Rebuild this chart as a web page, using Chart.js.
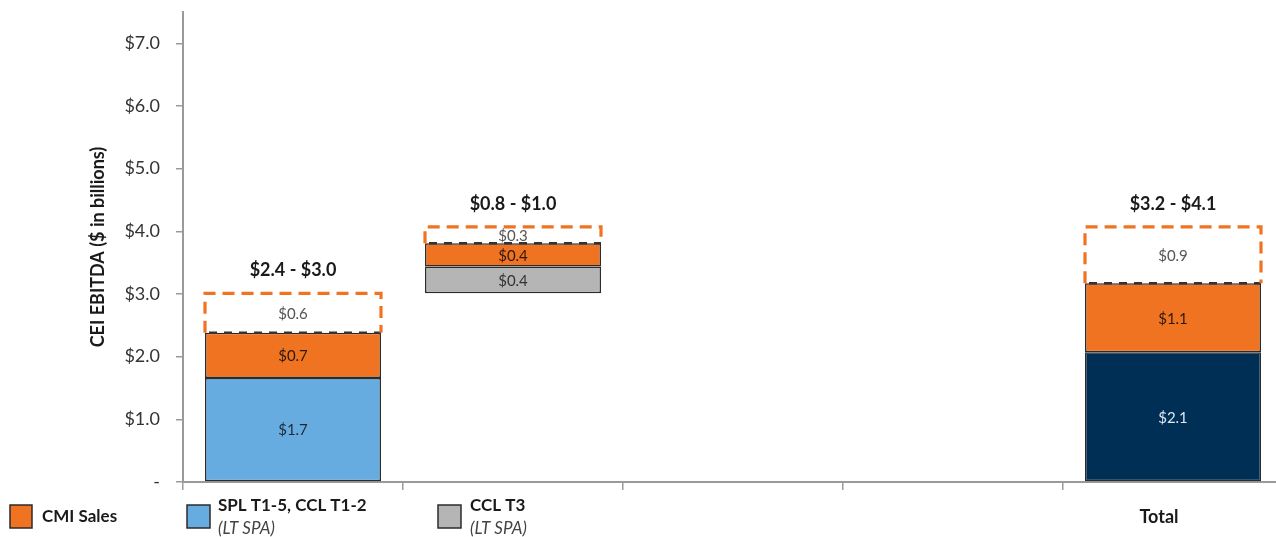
<!DOCTYPE html>
<html>
<head>
<meta charset="utf-8">
<script src="https://cdn.jsdelivr.net/npm/chart.js@4.4.1/dist/chart.umd.min.js"></script>
<style>
  html, body { margin: 0; padding: 0; background: #fff; overflow: hidden; }
  #wrap { position: relative; width: 1300px; height: 537px; }
</style>
</head>
<body>
<div id="wrap"><canvas id="ebitda-chart"></canvas></div>
<script>
// categories (bottom labels)
const categories = ["SPL T1-5, CCL T1-2", "CCL T3", "", "", "Total"];
const categorySubLabels = ["(LT SPA)", "(LT SPA)", "", "", ""];

// series values ($ billions)
const contractStart = [0, 3.01, null, null, 0];
const contractValues = [1.66, 0.43, null, null, 2.07];
const cmiValues = [0.72, 0.37, null, null, 1.10];
const upsideValues = [0.63, 0.26, null, null, 0.90];
const rangeLabels = ["$2.4 - $3.0", "$0.8 - $1.0", "", "", "$3.2 - $4.1"];

// y axis ticks
const yTicks = [0, 1, 2, 3, 4, 5, 6, 7];
const yMax = 7.5;

const CONTRACT_COLORS = ["#67ace0", "#b5b5b5", null, null, "#002f56"];
const CONTRACT_TEXT = ["#1f2a36", "#333333", null, null, "#dde6f0"];
const ORANGE = "#f07322";
const FONT = "Lato, 'Open Sans', sans-serif";

// floating ranges built from the segment values
const contractRanges = contractValues.map((v, i) => v == null ? null : [contractStart[i], contractStart[i] + v]);
const cmiRanges = cmiValues.map((v, i) => v == null ? null : [contractRanges[i][1], contractRanges[i][1] + v]);
const upsideRanges = upsideValues.map((v, i) => v == null ? null : [cmiRanges[i][1], cmiRanges[i][1] + v]);

const fmt = (v) => "$" + v.toFixed(1);

// dashed "upside" boxes + segment labels + range headers
const overlayPlugin = {
  id: "overlay",
  afterDatasetsDraw(chart) {
    const ctx = chart.ctx;
    const upMeta = chart.getDatasetMeta(2);
    ctx.save();
    upMeta.data.forEach((bar, i) => {
      if (upsideValues[i] == null) return;
      const left = bar.x - bar.width / 2, right = bar.x + bar.width / 2;
      const top = bar.y, base = bar.base;
      // dark dashed line on top of the solid stack
      ctx.setLineDash([8, 7]);
      ctx.lineWidth = 2.5;
      ctx.strokeStyle = "#333333";
      ctx.beginPath();
      ctx.moveTo(left + 4, base);
      ctx.lineTo(right, base);
      ctx.stroke();
      // orange dashed outline
      ctx.setLineDash([12, 7]);
      ctx.lineWidth = 3.2;
      ctx.strokeStyle = ORANGE;
      ctx.beginPath();
      ctx.moveTo(left, base);
      ctx.lineTo(left, top);
      ctx.lineTo(right, top);
      ctx.lineTo(right, base);
      ctx.stroke();
      // range header
      ctx.setLineDash([]);
      ctx.fillStyle = "#1a1a1a";
      ctx.font = "bold 18px " + FONT;
      ctx.textAlign = "center";
      ctx.textBaseline = "middle";
      ctx.fillText(rangeLabels[i], bar.x, top - 23);
    });

    // segment value labels
    const seriesVals = [contractValues, cmiValues, upsideValues];
    ctx.font = "15px " + FONT;
    ctx.textAlign = "center";
    ctx.textBaseline = "middle";
    seriesVals.forEach((vals, d) => {
      chart.getDatasetMeta(d).data.forEach((bar, i) => {
        if (vals[i] == null) return;
        if (d === 0) ctx.fillStyle = CONTRACT_TEXT[i];
        else if (d === 1) ctx.fillStyle = "#2a1a10";
        else ctx.fillStyle = "#555555";
        ctx.fillText(fmt(vals[i]), bar.x, (bar.y + bar.base) / 2 + 1);
      });
    });
    ctx.restore();
  },
  afterDraw(chart) {
    const ctx = chart.ctx;
    const xs = chart.scales.x;
    ctx.save();
    ctx.textBaseline = "middle";
    ctx.textAlign = "left";
    ctx.lineWidth = 1.5;
    ctx.strokeStyle = "#2b2b2b";

    // CMI Sales key, under the y axis
    ctx.fillStyle = ORANGE;
    ctx.fillRect(10, 505, 22, 23);
    ctx.strokeRect(10, 505, 22, 23);
    ctx.fillStyle = "#1a1a1a";
    ctx.font = "bold 17px " + FONT;
    ctx.fillText("CMI Sales", 42, 517);

    // category labels with their colour keys
    const swatchOffsets = [-106, -75];
    const textOffsets = [-75, -43];
    categories.forEach((label, i) => {
      if (!label) return;
      const cx = xs.getPixelForValue(i);
      if (categorySubLabels[i]) {
        ctx.fillStyle = CONTRACT_COLORS[i];
        ctx.fillRect(cx + swatchOffsets[i], 505, 23, 23);
        ctx.strokeRect(cx + swatchOffsets[i], 505, 23, 23);
        ctx.fillStyle = "#1a1a1a";
        ctx.textAlign = "left";
        ctx.font = "bold 17px " + FONT;
        ctx.fillText(label, cx + textOffsets[i], 506);
        ctx.fillStyle = "#444444";
        ctx.font = "italic 17px " + FONT;
        ctx.fillText(categorySubLabels[i], cx + textOffsets[i], 529);
      } else {
        ctx.fillStyle = "#1a1a1a";
        ctx.textAlign = "center";
        ctx.font = "bold 18px " + FONT;
        ctx.fillText(label, cx - 14, 517);
      }
    });
    ctx.restore();
  },
};

const segBorder = { borderColor: "#2b2b2b", borderWidth: 1.5, borderSkipped: false };

new Chart(document.getElementById("ebitda-chart"), {
  type: "bar",
  data: {
    labels: categories,
    datasets: [
      { label: "Contracted", data: contractRanges, backgroundColor: CONTRACT_COLORS, ...segBorder },
      { label: "CMI Sales", data: cmiRanges, backgroundColor: ORANGE, ...segBorder },
      { label: "Upside", data: upsideRanges, backgroundColor: "rgba(255,255,255,0)", borderWidth: 0 },
    ],
  },
  options: {
    responsive: true,
    maintainAspectRatio: false,
    animation: false,
    layout: { padding: { top: 12, right: 17, left: 0, bottom: 0 } },
    datasets: { bar: { grouped: false, barPercentage: 0.8, categoryPercentage: 1 } },
    plugins: { legend: { display: false }, tooltip: { enabled: false } },
    scales: {
      x: {
        ticks: { display: false },
        grid: { display: true, drawOnChartArea: false, offset: true, tickLength: 8, color: "#9a9a9a", lineWidth: 1.5 },
        border: { color: "#9a9a9a", width: 2 },
        afterFit: (s) => { s.height = 55; s.paddingLeft = 0; s.paddingRight = 0; },
      },
      y: {
        min: 0,
        max: yMax,
        afterBuildTicks: (s) => { s.ticks = yTicks.map((v) => ({ value: v })); },
        ticks: {
          padding: 16,
          color: "#333333",
          font: { family: FONT, size: 18 },
          callback: (v) => (v === 0 ? "-" : "$" + Number(v).toFixed(1)),
        },
        grid: { drawOnChartArea: false, tickLength: 7, color: "#9a9a9a", lineWidth: 1.5 },
        border: { color: "#9a9a9a", width: 2 },
        title: {
          display: true,
          text: "CEI EBITDA ($ in billions)",
          color: "#1a1a1a",
          font: { family: FONT, size: 18, weight: "bold" },
          padding: { top: 87, bottom: 0 },
        },
        afterFit: (s) => { s.width = 183; s.paddingTop = 0; s.paddingBottom = 0; },
      },
    },
  },
  plugins: [overlayPlugin],
});
</script>
</body>
</html>
